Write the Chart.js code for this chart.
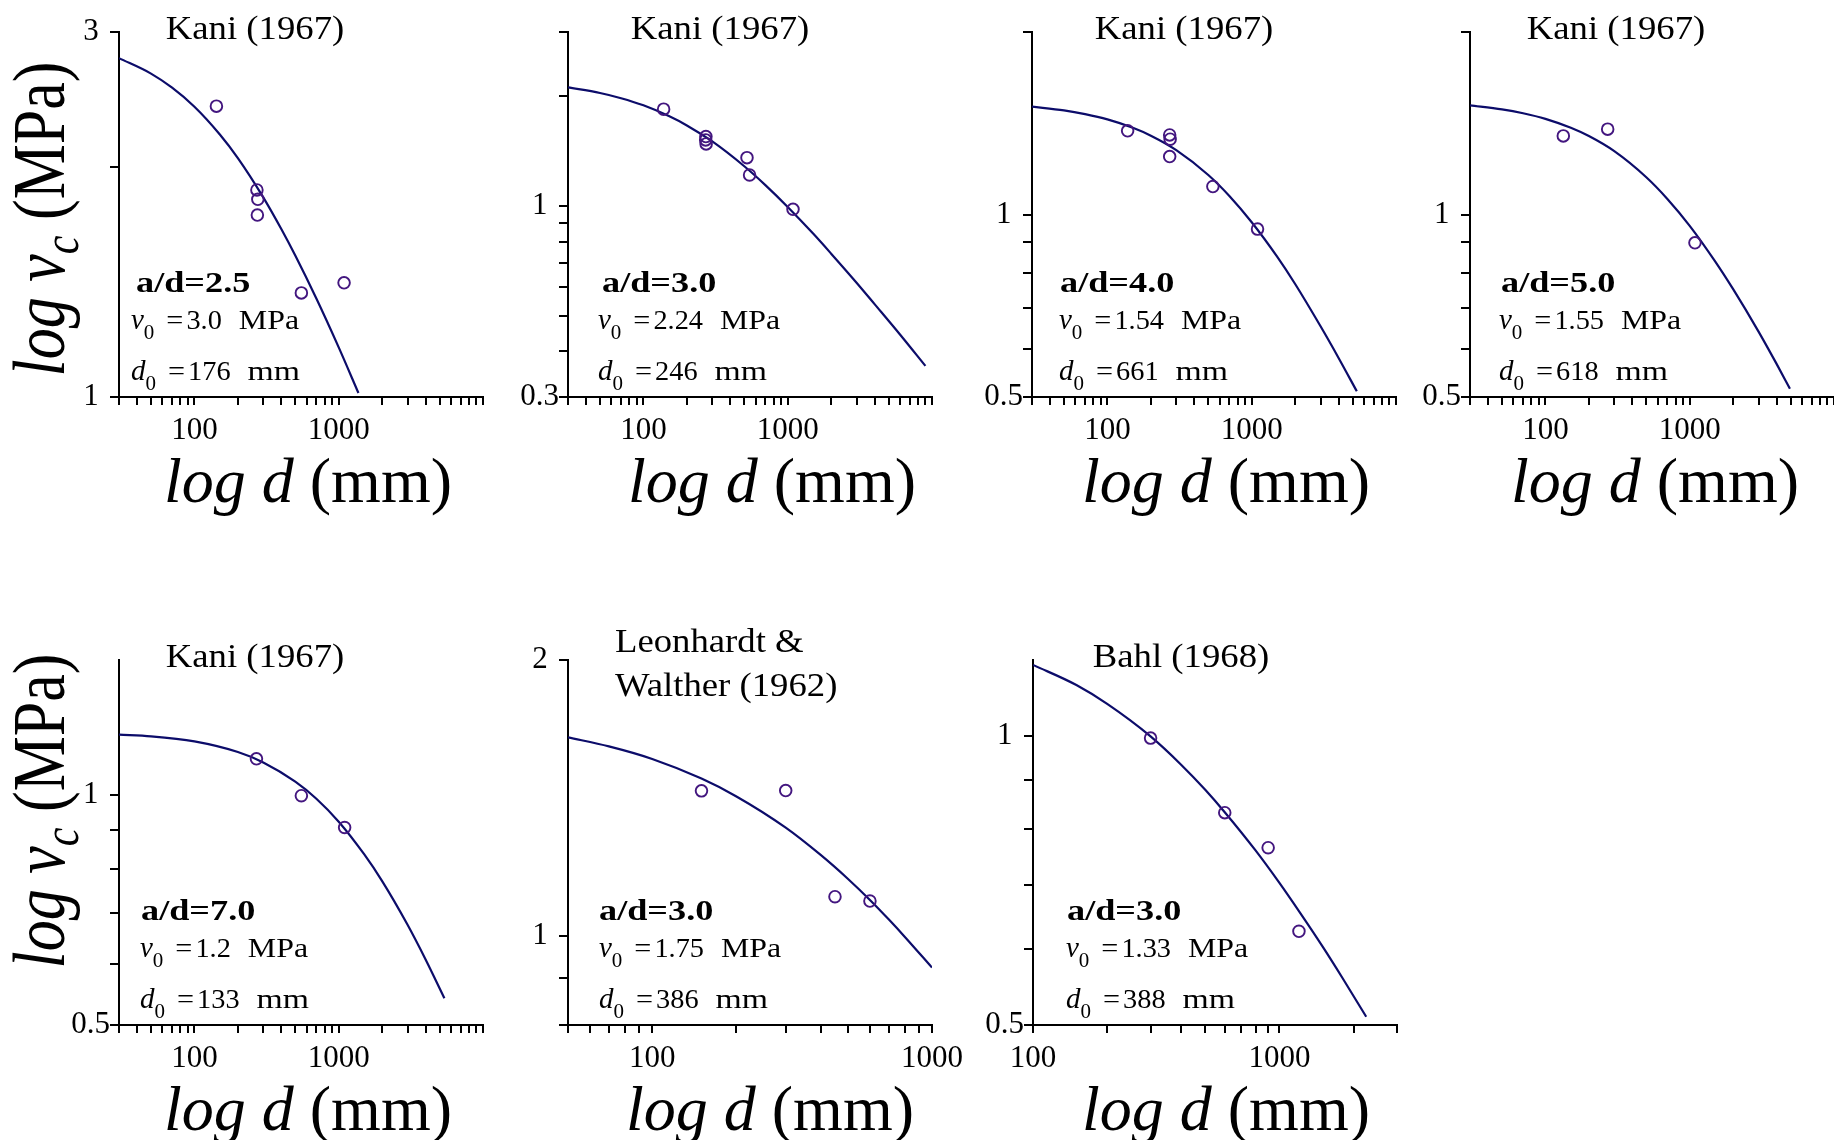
<!DOCTYPE html>
<html>
<head>
<meta charset="utf-8">
<title>Size effect in shear: log v_c vs log d</title>
<script src="https://cdn.jsdelivr.net/npm/chart.js@4.4.1/dist/chart.umd.min.js"></script>
<style>
html, body { margin: 0; padding: 0; background: #fff; width: 1834px; height: 1140px; overflow: hidden; position: relative; }
</style>
</head>
<body>
<script>
// Test results (d in mm, v_c in MPa) and fitted size-effect curves, one set per panel

// Kani (1967), a/d = 2.5
const kani25TestD = [142, 271, 275, 273, 551, 1089];
const kani25TestV = [2.40, 1.865, 1.813, 1.729, 1.368, 1.41];
const kani25FitD = [30, 50, 70, 100, 150, 200, 300, 400, 500, 700, 1000, 1370];
const kani25FitV = [2.773, 2.647, 2.537, 2.396, 2.204, 2.053, 1.824, 1.658, 1.531, 1.345, 1.161, 1.012];

// Kani (1967), a/d = 3.0
const kani30TestD = [138, 271, 270, 272, 522, 544, 1088];
const kani30TestV = [1.844, 1.551, 1.519, 1.481, 1.358, 1.217, 0.980];
const kani30FitD = [30, 50, 70, 100, 150, 200, 300, 500, 700, 1000, 1500, 2000, 3000, 4000, 6000, 9000];
const kani30FitV = [2.115, 2.042, 1.976, 1.889, 1.765, 1.664, 1.504, 1.286, 1.142, 0.995, 0.841, 0.741, 0.617, 0.539, 0.445, 0.365];

// Kani (1967), a/d = 4.0
const kani40TestD = [138, 270, 272, 270, 538, 1097];
const kani40TestV = [1.374, 1.353, 1.331, 1.246, 1.112, 0.946];
const kani40FitD = [30, 50, 70, 100, 150, 200, 300, 500, 700, 1000, 1500, 2000, 3000, 4000, 5350];
const kani40FitV = [1.506, 1.485, 1.464, 1.435, 1.390, 1.349, 1.277, 1.162, 1.073, 0.971, 0.852, 0.768, 0.654, 0.580, 0.511];

// Kani (1967), a/d = 5.0
const kani50TestD = [133, 270, 1087];
const kani50TestV = [1.348, 1.383, 0.898];
const kani50FitD = [30, 50, 70, 100, 150, 200, 300, 500, 700, 1000, 1500, 2000, 3000, 4000, 4950];
const kani50FitV = [1.514, 1.491, 1.469, 1.438, 1.390, 1.347, 1.272, 1.152, 1.061, 0.958, 0.837, 0.753, 0.641, 0.567, 0.516];

// Kani (1967), a/d = 7.0
const kani70TestD = [269, 551, 1099];
const kani70TestV = [1.114, 0.997, 0.906];
const kani70FitD = [30, 50, 100, 200, 300, 500, 700, 1000, 1500, 2000, 3000, 4000, 5400];
const kani70FitV = [1.198, 1.192, 1.174, 1.137, 1.102, 1.040, 0.988, 0.922, 0.836, 0.771, 0.676, 0.609, 0.542];

// Leonhardt & Walther (1962), a/d = 3.0
const leonTestD = [150, 300, 450, 600];
const leonTestV = [1.440, 1.441, 1.104, 1.092];
const leonFitD = [50, 70, 100, 150, 200, 300, 400, 500, 600, 700, 800, 1000];
const leonFitV = [1.647, 1.610, 1.560, 1.485, 1.420, 1.313, 1.226, 1.155, 1.095, 1.043, 0.998, 0.924];

// Bahl (1968), a/d = 3.0
const bahlTestD = [300, 600, 900, 1200];
const bahlTestV = [0.995, 0.832, 0.765, 0.626];
const bahlFitD = [100, 150, 200, 300, 400, 500, 600, 800, 1000, 1200, 1500, 1800, 2250];
const bahlFitV = [1.186, 1.130, 1.080, 0.999, 0.933, 0.879, 0.833, 0.760, 0.703, 0.657, 0.603, 0.560, 0.510];

// Panel captions and fitted parameters
const sources = [['Kani (1967)'], ['Kani (1967)'], ['Kani (1967)'], ['Kani (1967)'],
                 ['Kani (1967)'], ['Leonhardt &', 'Walther (1962)'], ['Bahl (1968)']];
const spanRatios = ['2.5', '3.0', '4.0', '5.0', '7.0', '3.0', '3.0'];
const v0Values = ['3.0', '2.24', '1.54', '1.55', '1.2', '1.75', '1.33'];
const d0Values = ['176', '246', '661', '618', '133', '386', '388'];

// Axis ranges and labelled ticks
const xRanges = [[30, 10000], [30, 10000], [30, 10000], [30, 10000], [30, 10000], [50, 1000], [100, 3000]];
const yRanges = [[1, 3], [0.3, 3], [0.5, 2], [0.5, 2], [0.5, 1.5], [0.8, 2], [0.5, 1.2]];
const xTickLabels = [100, 1000];
const yTickLabels = [[1, 3], [0.3, 1], [0.5, 1], [0.5, 1], [0.5, 1], [1, 2], [0.5, 1]];

const testD = [kani25TestD, kani30TestD, kani40TestD, kani50TestD, kani70TestD, leonTestD, bahlTestD];
const testV = [kani25TestV, kani30TestV, kani40TestV, kani50TestV, kani70TestV, leonTestV, bahlTestV];
const fitD = [kani25FitD, kani30FitD, kani40FitD, kani50FitD, kani70FitD, leonFitD, bahlFitD];
const fitV = [kani25FitV, kani30FitV, kani40FitV, kani50FitV, kani70FitV, leonFitV, bahlFitV];

// Page placement of each plot box and its text (px, relative to the plot box)
const layout = [
  { left: 119,  top: 32,  titleX: 136, adX: 17, valX: 12, xTitleX: 189, yTitle: [-55, 187] },
  { left: 568,  top: 32,  titleX: 152, adX: 34, valX: 30, xTitleX: 204 },
  { left: 1032, top: 32,  titleX: 152, adX: 28, valX: 27, xTitleX: 194 },
  { left: 1470, top: 32,  titleX: 146, adX: 31, valX: 29, xTitleX: 185 },
  { left: 119,  top: 660, titleX: 136, adX: 22, valX: 21, xTitleX: 189, yTitle: [-55, 151] },
  { left: 568,  top: 660, titleX: 47,  titleLeft: true, adX: 31, valX: 31, xTitleX: 202 },
  { left: 1033, top: 660, titleX: 148, adX: 34, valX: 33, xTitleX: 193 }
];

const SERIF = '"Liberation Serif", "Times New Roman", Times, serif';
const CURVE = '#0c0c6a';
const MARKER = '#43167f';
const MARGIN = { left: 119, top: 50, right: 45, bottom: 140 };
const PLOT_W = 364, PLOT_H = 365;
const TICK_FONT = 31;

// tick marks at 1..9 x 10^k inside [min, max]
function wholeMantissaTicks(min, max) {
  const out = [];
  for (let e = Math.floor(Math.log10(min)); Math.pow(10, e) <= max * 1.0001; e++) {
    for (let m = 1; m <= 9; m++) {
      const v = parseFloat((m * Math.pow(10, e)).toPrecision(6));
      if (v >= min * 0.9999 && v <= max * 1.0001) out.push(v);
    }
  }
  return out;
}

function tickText(v, labels) {
  const hit = labels.find(l => Math.abs(l - v) <= l * 1e-6);
  return hit === undefined ? '' : String(hit);
}

function runFont(r) {
  return `${r.style || 'normal'} ${r.size}px ${SERIF}`;
}

function runsWidth(ctx, runs) {
  let w = 0;
  for (const r of runs) {
    ctx.font = runFont(r);
    w += (r.gap || 0) + ctx.measureText(r.text).width * (r.sx || 1);
  }
  return w;
}

// mixed italic / upright / subscript text on one baseline;
// each run may carry its own lead gap and horizontal scale
function drawRuns(ctx, runs, x, y, { align = 'left', sx = 1, sy = 1, angle = 0 } = {}) {
  ctx.save();
  ctx.translate(x, y);
  if (angle) ctx.rotate(angle);
  ctx.scale(sx, sy);
  ctx.textAlign = 'left';
  ctx.textBaseline = 'alphabetic';
  let cx = align === 'center' ? -runsWidth(ctx, runs) / 2 : 0;
  for (const r of runs) {
    cx += r.gap || 0;
    ctx.font = runFont(r);
    ctx.save();
    ctx.translate(cx, r.dy || 0);
    ctx.scale(r.sx || 1, 1);
    ctx.fillText(r.text, 0, 0);
    ctx.restore();
    cx += ctx.measureText(r.text).width * (r.sx || 1);
  }
  ctx.restore();
}

function paramRuns(symbol, value, unit, unitScale) {
  return [
    { text: symbol, style: 'italic', size: 29 },
    { text: '0', size: 21, dy: 10 },
    { text: '=', size: 27, sx: 1.12, gap: 12 },
    { text: value, size: 27, sx: 1.05, gap: 3 },
    { text: unit, size: 27, sx: unitScale, gap: 17 }
  ];
}

function panelTextPlugin(i) {
  const p = layout[i];
  return {
    id: 'panelText',
    afterDraw(chart) {
      const { ctx, chartArea: a } = chart;
      ctx.save();
      ctx.fillStyle = '#000';

      sources[i].forEach((line, k) => {
        const runs = [{ text: line, size: 34 }];
        if (p.titleLeft) {
          drawRuns(ctx, runs, a.left + p.titleX, a.top - 8 + k * 44, { sx: 1.08 });
        } else {
          drawRuns(ctx, runs, a.left + p.titleX, a.top + 7, { align: 'center', sx: 1.08 });
        }
      });

      drawRuns(ctx, [{ text: 'a/d=' + spanRatios[i], style: 'bold', size: 29 }],
        a.left + p.adX, a.bottom - 105, { sx: 1.25 });
      drawRuns(ctx, paramRuns('v', v0Values[i], 'MPa', 1.18), a.left + p.valX, a.bottom - 68);
      drawRuns(ctx, paramRuns('d', d0Values[i], 'mm', 1.25), a.left + p.valX, a.bottom - 17);

      drawRuns(ctx, [
        { text: 'log d', style: 'italic', size: 64 },
        { text: ' (mm)', size: 64 }
      ], a.left + p.xTitleX, a.bottom + 105, { align: 'center' });

      if (p.yTitle) {
        drawRuns(ctx, [
          { text: 'log v', style: 'italic', size: 62 },
          { text: 'c', style: 'italic', size: 42, dy: 12 },
          { text: ' (MPa)', size: 62 }
        ], a.left + p.yTitle[0], a.top + p.yTitle[1], { align: 'center', angle: -Math.PI / 2, sy: 1.2 });
      }
      ctx.restore();
    }
  };
}

const meas = document.createElement('canvas').getContext('2d');
meas.font = `${TICK_FONT}px ${SERIF}`;

function buildPanel(i) {
  const p = layout[i];
  const w = MARGIN.left + PLOT_W + MARGIN.right;
  const h = MARGIN.top + PLOT_H + MARGIN.bottom;
  const canvas = document.createElement('canvas');
  canvas.width = w;
  canvas.height = h;
  canvas.style.cssText = `position:absolute;left:${p.left - MARGIN.left}px;top:${p.top - MARGIN.top}px;width:${w}px;height:${h}px`;
  document.body.appendChild(canvas);

  const [xMin, xMax] = xRanges[i];
  const [yMin, yMax] = yRanges[i];
  const widest = Math.max(...yTickLabels[i].map(v => meas.measureText(String(v)).width));
  const yPad = Math.max(0, 28 - 9 - widest / 2);

  new Chart(canvas, {
    type: 'scatter',
    data: {
      datasets: [{
        label: 'Tests',
        data: testD[i].map((d, k) => ({ x: d, y: testV[i][k] })),
        pointStyle: 'circle',
        pointRadius: 5.8,
        pointBorderWidth: 1.9,
        borderColor: MARKER,
        pointBorderColor: MARKER,
        backgroundColor: 'rgba(0,0,0,0)',
        pointBackgroundColor: 'rgba(0,0,0,0)',
        showLine: false,
        order: 1
      }, {
        label: 'Size effect law',
        data: fitD[i].map((d, k) => ({ x: d, y: fitV[i][k] })),
        showLine: true,
        borderColor: CURVE,
        borderWidth: 2.2,
        pointRadius: 0,
        cubicInterpolationMode: 'monotone',
        fill: false,
        order: 2
      }]
    },
    options: {
      responsive: false,
      animation: false,
      events: [],
      layout: { padding: { left: 0, top: MARGIN.top, right: MARGIN.right, bottom: 0 } },
      plugins: { legend: { display: false }, tooltip: { enabled: false } },
      scales: {
        x: {
          type: 'logarithmic',
          position: 'bottom',
          min: xMin,
          max: xMax,
          afterBuildTicks: s => { s.ticks = wholeMantissaTicks(xMin, xMax).map(v => ({ value: v })); },
          afterFit: s => { s.height = MARGIN.bottom; },
          border: { display: true, color: '#000', width: 2 },
          grid: { drawOnChartArea: false, drawTicks: true, tickLength: 8, color: '#000', lineWidth: 2 },
          ticks: {
            autoSkip: false, maxRotation: 0, padding: 7, color: '#000',
            font: { family: SERIF, size: TICK_FONT },
            callback: v => tickText(v, xTickLabels)
          }
        },
        y: {
          type: 'logarithmic',
          position: 'left',
          min: yMin,
          max: yMax,
          afterBuildTicks: s => { s.ticks = wholeMantissaTicks(yMin, yMax).map(v => ({ value: v })); },
          afterFit: s => { s.width = MARGIN.left; },
          border: { display: true, color: '#000', width: 2 },
          grid: { drawOnChartArea: false, drawTicks: true, tickLength: 9, color: '#000', lineWidth: 2 },
          ticks: {
            autoSkip: false, crossAlign: 'center', padding: yPad, color: '#000',
            font: { family: SERIF, size: TICK_FONT },
            callback: v => tickText(v, yTickLabels[i])
          }
        }
      }
    },
    plugins: [panelTextPlugin(i)]
  });
}

layout.forEach((_, i) => buildPanel(i));
</script>
</body>
</html>
